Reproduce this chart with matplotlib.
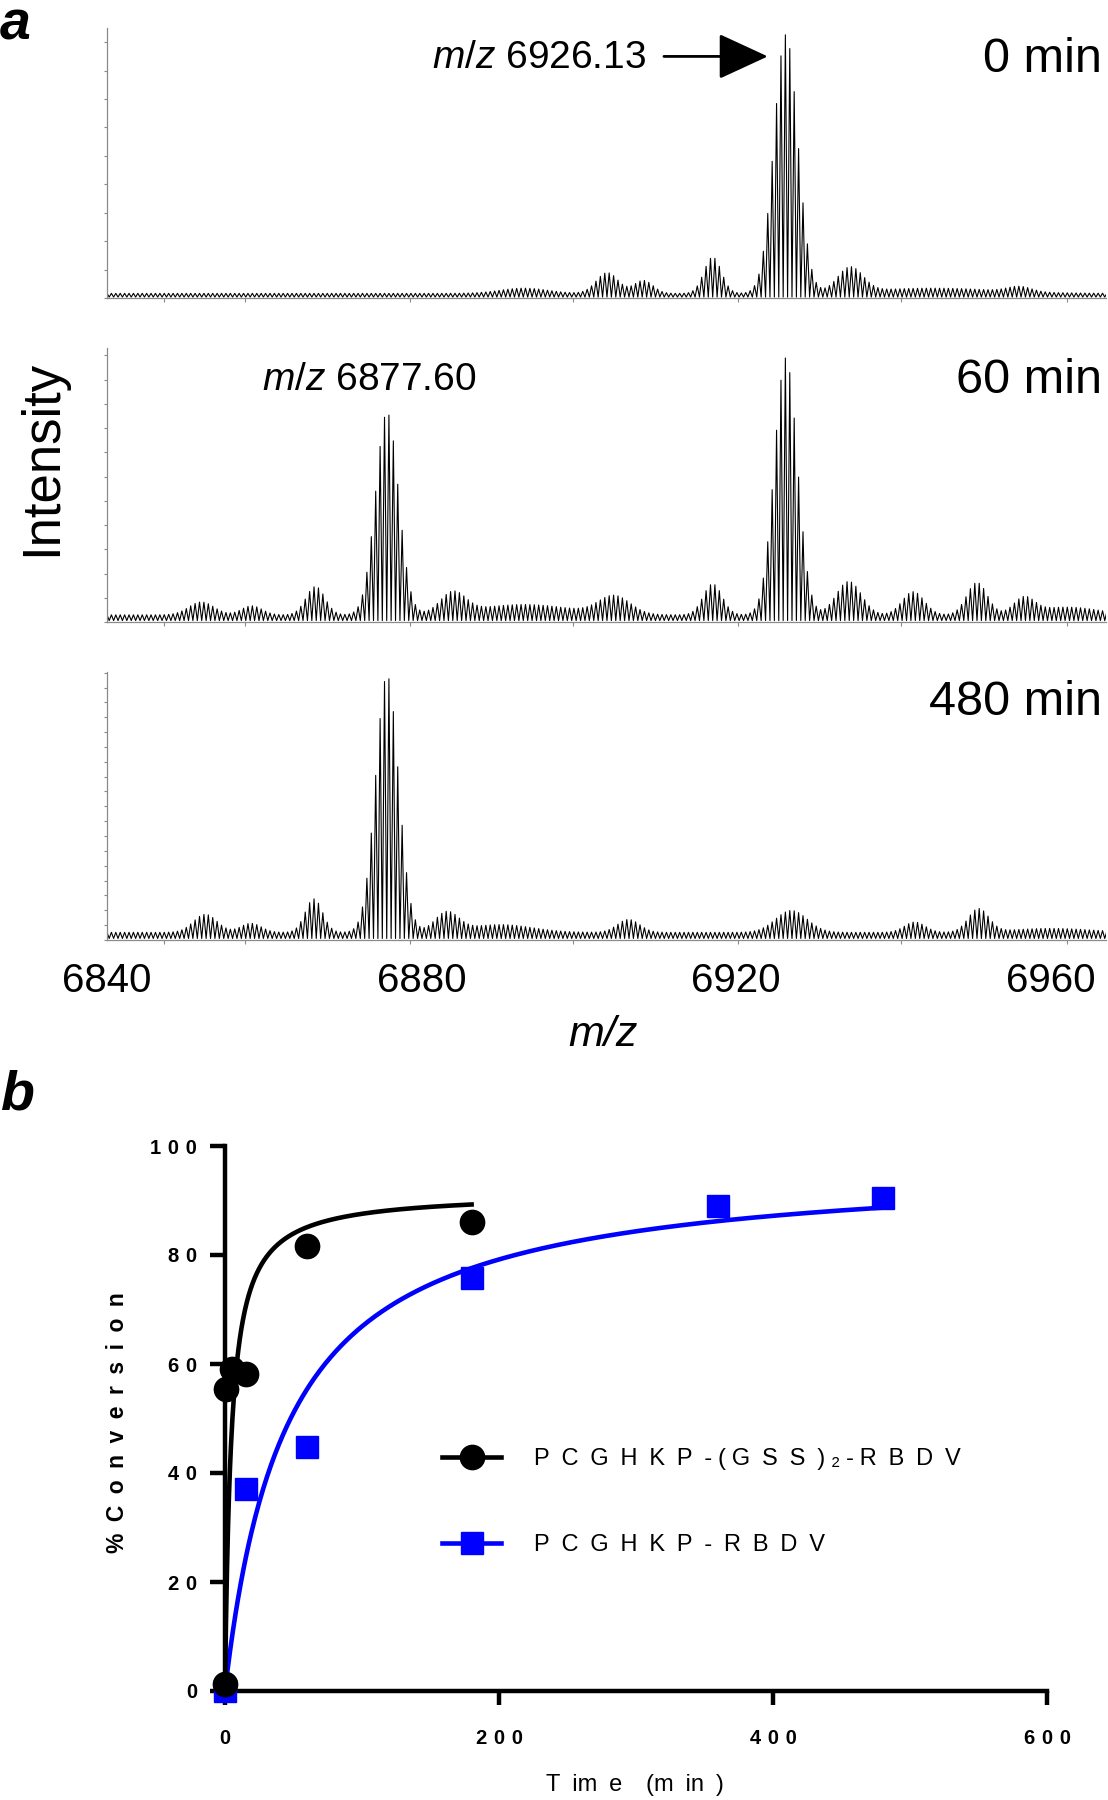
import numpy as np
import matplotlib
matplotlib.use("Agg")
import matplotlib.pyplot as plt
from matplotlib import font_manager
from matplotlib.font_manager import FontProperties
from matplotlib.lines import Line2D

plt.rcParams['font.family'] = ['Liberation Sans', 'DejaVu Sans']
plt.rcParams['mathtext.fontset'] = 'custom'
plt.rcParams['mathtext.rm'] = 'Liberation Sans'
plt.rcParams['mathtext.it'] = 'Liberation Sans:italic'

try:
    font_manager.findfont(FontProperties(family='Liberation Sans Narrow'), fallback_to_default=False)
    NARROW, NARROW_SIZE = 'Liberation Sans Narrow', 34
except ValueError:
    NARROW, NARROW_SIZE = 'Liberation Sans', 29

# ---- panel a: MALDI spectra, envelope clusters ----
# (centre m/z, relative height, width)
spec0_center = [6893.0, 6903.6, 6908.2, 6917.0, 6926.3, 6934.5, 6945.0, 6956.0]
spec0_height = [0.02, 0.08, 0.05, 0.14, 1.0, 0.095, 0.02, 0.02]
spec0_width = [3.0, 1.4, 1.2, 1.1, 1.5, 1.6, 8.0, 1.5]
spec0_base = 0.018

spec60_center = [6852.0, 6858.4, 6866.5, 6875.6, 6884.0, 6893.0, 6904.5, 6917.0,
                 6926.3, 6934.3, 6942.5, 6950.6, 6956.6, 6962.0]
spec60_height = [0.05, 0.035, 0.11, 0.787, 0.08, 0.04, 0.07, 0.12,
                 1.0, 0.13, 0.09, 0.125, 0.06, 0.03]
spec60_width = [1.6, 1.3, 1.2, 1.45, 1.6, 6.0, 2.0, 1.2, 1.45, 1.6, 1.4, 1.3, 1.3, 4.0]
spec60_base = 0.028

spec480_center = [6852.5, 6858.3, 6866.3, 6875.6, 6883.2, 6890.0, 6906.3, 6927.0,
                  6942.7, 6950.8, 6960.0]
spec480_height = [0.07, 0.035, 0.13, 1.0, 0.075, 0.03, 0.05, 0.085, 0.04, 0.09, 0.015]
spec480_width = [1.5, 1.3, 1.1, 1.45, 1.5, 4.0, 1.4, 2.0, 1.3, 1.3, 5.0]
spec480_base = 0.03

time_labels = ['0 min', '60 min', '480 min']
mz_ticks = [6840, 6880, 6920, 6960]
mz_minor = [6847.2, 6857.5, 6878.5, 6899.3, 6920.2, 6941.0, 6962.0]

# ---- panel b: conversion kinetics ----
time_black = [0, 1, 5, 15, 60, 180]
conv_black = [1.3, 55.5, 59.0, 58.2, 81.6, 86.1]
time_blue = [0, 15, 60, 180, 360, 480]
conv_blue = [0.0, 37.1, 44.7, 75.7, 89.0, 90.4]
# hyperbolic fit parameters (Bmax, K) and fit range
fit_black = (91.5, 4.5, 180)
fit_blue = (97.0, 45.0, 480)
x_ticks_b = [0, 200, 400, 600]
y_ticks_b = [0, 20, 40, 60, 80, 100]

EN = '\u2002'
Q = '\u2005'
T3 = '\u2004'
label_black = (EN.join('PCGHKP') + EN + '-' + Q + '(' + Q + EN.join('GSS') + EN + ')' + Q
               + '\u2082' + Q + '-' + Q + EN.join('RBDV'))
label_blue = EN.join('PCGHKP') + EN + '-' + EN + EN.join('RBDV')

W, H = 1108, 1800
fig = plt.figure(figsize=(W / 100, H / 100), dpi=100)


def fbox(left, top, right, bottom):
    return [left / W, 1 - bottom / H, (right - left) / W, (bottom - top) / H]


def draw_spectrum(ax, centers, heights, widths, base, ytop, ystep):
    step = 0.56
    lines = np.arange(6840, 6967.5, step)
    env = np.full(lines.shape, base)
    for c, h, w in zip(centers, heights, widths):
        env += h * np.exp(-0.5 * ((lines - c) / w) ** 2)
    xs = np.empty(2 * len(lines))
    ys = np.empty(2 * len(lines))
    xs[0::2] = lines - step / 2
    xs[1::2] = lines
    ys[0::2] = base * 0.2
    ys[1::2] = env
    ax.plot(xs, ys, color='black', lw=0.8)
    ax.set_xlim(6840, 6967)
    ax.set_ylim(0, ytop)
    for s in ['top', 'right']:
        ax.spines[s].set_visible(False)
    for s in ['left', 'bottom']:
        ax.spines[s].set_color('#8a8a8a')
        ax.spines[s].set_linewidth(0.9)
    ax.set_yticks(np.arange(0, ytop, ystep))
    ax.set_yticklabels([])
    ax.tick_params(axis='y', length=2.5, width=0.8, color='#8a8a8a', direction='out')
    ax.set_xticks(mz_ticks)
    ax.set_xticks(mz_minor, minor=True)
    ax.tick_params(axis='x', which='major', length=0, pad=16)
    ax.tick_params(axis='x', which='minor', length=3, width=0.8, color='#8a8a8a')
    ax.set_xticklabels([])


ax0 = fig.add_axes(fbox(107, 28, 1106, 298))
draw_spectrum(ax0, spec0_center, spec0_height, spec0_width, spec0_base, 1.045, 0.11)
ax1 = fig.add_axes(fbox(107, 348, 1106, 622))
draw_spectrum(ax1, spec60_center, spec60_height, spec60_width, spec60_base, 1.066, 0.0943)
ax2 = fig.add_axes(fbox(107, 672, 1106, 940))
draw_spectrum(ax2, spec480_center, spec480_height, spec480_width, spec480_base, 1.043, 0.0578)
ax2.set_xticklabels([str(t) for t in mz_ticks], fontfamily=NARROW, fontsize=NARROW_SIZE)

for ax, lab, yy in zip([ax0, ax1, ax2], time_labels, [0.885, 0.88, 0.888]):
    ax.text(0.996, yy, lab, transform=ax.transAxes, ha='right', va='center', fontsize=35)

ax0.text(6908.5, 0.93, r'$\mathit{m/z}$ 6926.13', ha='right', va='center', fontsize=28)
ax0.annotate('', xy=(6924.0, 0.935), xytext=(6910.8, 0.935),
             arrowprops=dict(arrowstyle='-|>,head_length=1.3,head_width=0.6',
                             color='black', lw=2, mutation_scale=24, shrinkA=0, shrinkB=0))
ax1.text(6859.7, 0.94, r'$\mathit{m/z}$ 6877.60', ha='left', va='center', fontsize=28)

fig.text(42 / W, 1 - 458 / H, 'Intensity', rotation=90, ha='center', va='center', fontsize=38)
fig.text(603 / W, 1 - 1035 / H, 'm/z', style='italic', ha='center', va='center', fontsize=31)
fig.text(0.0, 1.0, 'a', fontsize=40, fontweight='bold', style='italic', ha='left', va='top')
fig.text(0.0, 1 - 1070 / H, 'b', fontsize=40, fontweight='bold', style='italic', ha='left', va='top')

# ---- panel b ----
axb = fig.add_axes(fbox(225, 1146, 1047, 1691))
tb = np.linspace(0, fit_black[2], 500)
tu = np.linspace(0, fit_blue[2], 500)
axb.plot(tu, fit_blue[0] * tu / (fit_blue[1] + tu), color='#0000ff', lw=3.3, zorder=2, clip_on=False)
axb.plot(tb, fit_black[0] * tb / (fit_black[1] + tb), color='black', lw=3.3, zorder=3, clip_on=False)
axb.plot(time_blue, conv_blue, 's', color='#0000ff', ms=16.5, zorder=4, clip_on=False)
axb.plot(time_black, conv_black, 'o', color='black', ms=17.5, zorder=5, clip_on=False)

axb.set_xlim(0, 600)
axb.set_ylim(0, 100)
for s in ['top', 'right']:
    axb.spines[s].set_visible(False)
for s in ['left', 'bottom']:
    axb.spines[s].set_linewidth(3.2)
axb.set_xticks(x_ticks_b)
axb.set_xticklabels([T3.join(str(v)) for v in x_ticks_b], fontweight='bold', fontsize=14.5)
axb.set_yticks(y_ticks_b)
axb.set_yticklabels([T3.join(str(v)) for v in y_ticks_b], fontweight='bold', fontsize=14.5)
axb.tick_params(axis='x', length=10, width=3.2, pad=17)
axb.tick_params(axis='y', length=11, width=3.2, pad=9)

fig.text(118 / W, 1 - 1423 / H, EN.join('%Conversion'), rotation=90, ha='center', va='center',
         fontsize=16.5, fontweight='bold')
fig.text(635 / W, 1 - 1785 / H, 'T' + EN + 'im' + EN + 'e' + EN + EN + '(m' + EN + 'in' + EN + ')',
         ha='center', va='center', fontsize=17)

handles = [Line2D([], [], color='black', lw=3.3, marker='o', ms=17.5),
           Line2D([], [], color='#0000ff', lw=3.3, marker='s', ms=16.5)]
fig.legend(handles, [label_black, label_blue], loc='center left',
           bbox_to_anchor=(442 / W, 1 - 1502 / H), bbox_transform=fig.transFigure,
           frameon=False, handlelength=2.5, handletextpad=1.4, labelspacing=2.72,
           borderpad=0, borderaxespad=0,
           prop=FontProperties(family=['Liberation Sans', 'DejaVu Sans'], size=17))

fig.savefig('out.png', dpi=100)
